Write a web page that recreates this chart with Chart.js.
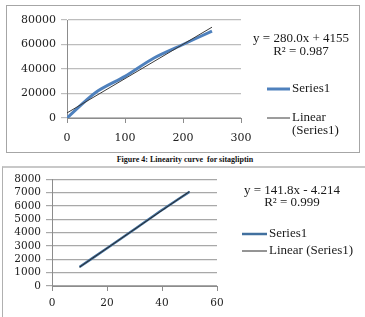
<!DOCTYPE html>
<html>
<head>
<meta charset="utf-8">
<script src="https://cdn.jsdelivr.net/npm/chart.js@4/dist/chart.umd.min.js"></script>
<style>
    body { margin: 0; background: #fff; width: 365px; height: 317px; overflow: hidden; position: relative; }
    #box1 { position: absolute; left: 6px; top: 5px; width: 352px; height: 146px; border: 1px solid #a6a6a6; }
    #box2 { position: absolute; left: 2px; top: 166px; width: 370px; height: 160px; border-top: 2px solid #c8c8c8; border-left: 1px solid #b0b0b0; }
    #box1 canvas, #box2 canvas { position: absolute; left: 0; top: 0; }
    #cap { position: absolute; left: 0; top: 155px; width: 370px; text-align: center; font: bold 8px "Liberation Serif"; color: #111; }
</style>
</head>
<body>
<div id="box1"><canvas id="topChart" width="352" height="146"></canvas></div>
<div id="cap">Figure 4: Linearity curve&nbsp; for sitagliptin</div>
<div id="box2"><canvas id="bottomChart" width="362" height="149"></canvas></div>
<script>
    // top chart (sitagliptin)
    const topConc = [0, 50, 100, 150, 200, 250];
    const topArea = [0, 21000, 34000, 49000, 60000, 71000];
    const topTrendX = [0, 250];
    const topTrendY = [4155, 74155];
    const topYTicks = [0, 20000, 40000, 60000, 80000];
    const topXTicks = [0, 100, 200, 300];
    const topEquation = ["y = 280.0x + 4155", "R\u00b2 = 0.987"];

    // bottom chart
    const botConc = [10, 20, 30, 40, 50];
    const botArea = [1430, 2830, 4250, 5700, 7070];
    const botTrendX = [10, 50];
    const botTrendY = [1414, 7086];
    const botYTicks = [0, 1000, 2000, 3000, 4000, 5000, 6000, 7000, 8000];
    const botXTicks = [0, 20, 40, 60];
    const botEquation = ["y = 141.8x - 4.214", "R\u00b2 = 0.999"];

    const toPoints = (xs, ys) => xs.map((x, i) => ({x: x, y: ys[i]}));

    // draws the trendline equation and the legend on the right
    const notesPlugin = {
        id: 'notes',
        afterDraw(chart, args, opts) {
            const ctx = chart.ctx;
            ctx.save();
            ctx.font = opts.font;
            ctx.fillStyle = '#1a1a1a';
            ctx.textBaseline = 'middle';
            ctx.textAlign = 'center';
            opts.equation.forEach((t, i) => ctx.fillText(t, opts.eqX, opts.eqY + i * opts.gap));
            ctx.textAlign = 'left';
            opts.legend.forEach(item => {
                const ds = chart.data.datasets[item.dataset];
                ctx.strokeStyle = ds.borderColor;
                ctx.lineWidth = ds.borderWidth;
                ctx.beginPath();
                ctx.moveTo(item.x, item.y);
                ctx.lineTo(item.x + opts.swatch, item.y);
                ctx.stroke();
                const lines = opts.wrap ? ds.label.split('\n') : [ds.label.replace('\n', ' ')];
                lines.forEach((t, i) => ctx.fillText(t, item.x + opts.swatch + 2, item.y + i * opts.gap));
            });
            ctx.restore();
        }
    };

    function makeScales(cfg) {
        return {
            x: {
                type: 'linear',
                min: cfg.xTicks[0],
                max: cfg.xTicks[cfg.xTicks.length - 1],
                afterBuildTicks: s => { s.ticks = cfg.xTicks.map(v => ({value: v})); },
                afterFit: s => { s.height = cfg.xHeight; },
                grid: {drawOnChartArea: false, tickLength: 5, tickColor: '#8c8c8c'},
                border: {color: '#8c8c8c', width: 1},
                ticks: {
                    font: {family: 'DejaVu Serif', size: cfg.tickSize},
                    color: '#222',
                    padding: cfg.xPad,
                    maxRotation: 0,
                    autoSkip: false,
                    callback: v => String(v)
                }
            },
            y: {
                type: 'linear',
                min: cfg.yTicks[0],
                max: cfg.yTicks[cfg.yTicks.length - 1],
                afterBuildTicks: s => { s.ticks = cfg.yTicks.map(v => ({value: v})); },
                afterFit: s => { s.width = cfg.yWidth; },
                grid: {color: cfg.gridColor, lineWidth: 1.2, tickLength: 6, tickColor: cfg.gridColor},
                border: {color: '#8c8c8c', width: 1},
                ticks: {
                    font: {family: 'DejaVu Serif', size: cfg.tickSize},
                    color: '#222',
                    padding: 5,
                    autoSkip: false,
                    callback: v => String(v)
                }
            }
        };
    }

    new Chart(document.getElementById('topChart'), {
        type: 'line',
        data: {
            datasets: [
                {
                    label: 'Series1',
                    data: toPoints(topConc, topArea),
                    borderColor: '#4f81bd',
                    borderWidth: 3,
                    tension: 0.3,
                    pointRadius: 0,
                    order: 1
                },
                {
                    label: 'Linear\n(Series1)',
                    data: toPoints(topTrendX, topTrendY),
                    borderColor: '#3a3a3a',
                    borderWidth: 1,
                    pointRadius: 0,
                    order: 0
                }
            ]
        },
        options: {
            responsive: false,
            animation: false,
            layout: {padding: {top: 14, right: 118, left: 0, bottom: 0}},
            scales: makeScales({
                xTicks: topXTicks, yTicks: topYTicks, xHeight: 34, yWidth: 60,
                tickSize: 11, xPad: 9, gridColor: '#bdbdbd'
            }),
            plugins: {
                legend: {display: false},
                tooltip: {enabled: false},
                notes: {
                    font: '13px "Liberation Serif"',
                    equation: topEquation,
                    eqX: 294, eqY: 33, gap: 13,
                    swatch: 23, wrap: true,
                    legend: [{dataset: 0, x: 260, y: 83}, {dataset: 1, x: 260, y: 112}]
                }
            }
        },
        plugins: [notesPlugin]
    });

    new Chart(document.getElementById('bottomChart'), {
        type: 'line',
        data: {
            datasets: [
                {
                    label: 'Series1',
                    data: toPoints(botConc, botArea),
                    borderColor: '#41709f',
                    borderWidth: 2.5,
                    tension: 0.2,
                    pointRadius: 0,
                    order: 1
                },
                {
                    label: 'Linear\n(Series1)',
                    data: toPoints(botTrendX, botTrendY),
                    borderColor: '#2a2a2a',
                    borderWidth: 1,
                    pointRadius: 0,
                    order: 0
                }
            ]
        },
        options: {
            responsive: false,
            animation: false,
            layout: {padding: {top: 10, right: 148, left: 0, bottom: 0}},
            scales: makeScales({
                xTicks: botXTicks, yTicks: botYTicks, xHeight: 31, yWidth: 49,
                tickSize: 10.5, xPad: 6, gridColor: '#a8a8a8'
            }),
            plugins: {
                legend: {display: false},
                tooltip: {enabled: false},
                notes: {
                    font: '13px "Liberation Serif"',
                    equation: botEquation,
                    eqX: 289, eqY: 23, gap: 12,
                    swatch: 25, wrap: false,
                    legend: [{dataset: 0, x: 239, y: 66}, {dataset: 1, x: 239, y: 83}]
                }
            }
        },
        plugins: [notesPlugin]
    });
</script>
</body>
</html>
